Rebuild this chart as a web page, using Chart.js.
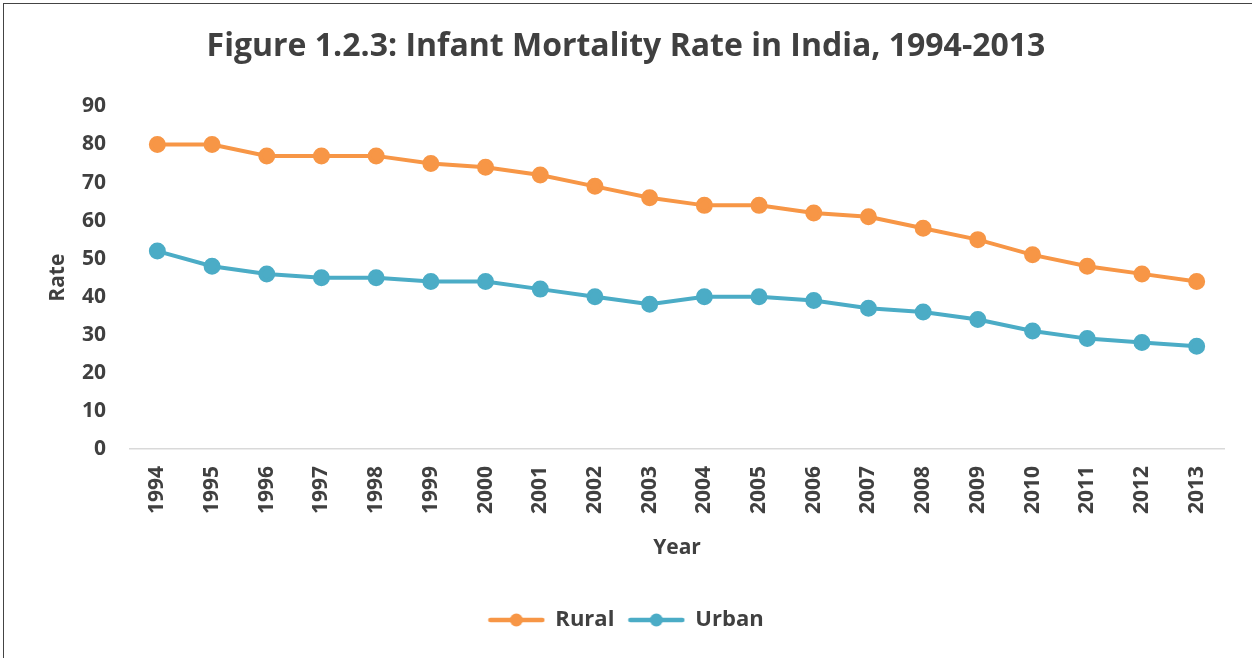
<!DOCTYPE html>
<html lang="en">
  <head>
    <meta charset="UTF-8" />
    <title>Infant Mortality Rate in India, 1994-2013</title>
    <script src="https://cdn.jsdelivr.net/npm/chart.js"></script>
    <style>
      html, body { margin: 0; padding: 0; background: #fff; overflow: hidden; }
      #frame { position: absolute; left: 3px; top: 3px; width: 1300px; height: 700px; border-left: 1px solid #444; border-top: 1px solid #444; }
      #wrap { position: absolute; left: 0; top: 0; width: 1252px; height: 658px; }
    </style>
  </head>
  <body>
    <div id="frame"></div>
    <div id="wrap"><canvas id="chart" width="1252" height="658"></canvas></div>

    <script>
      // Data
      const years = ["1994", "1995", "1996", "1997", "1998", "1999", "2000", "2001", "2002", "2003",
                     "2004", "2005", "2006", "2007", "2008", "2009", "2010", "2011", "2012", "2013"];
      const rural = [80, 80, 77, 77, 77, 75, 74, 72, 69, 66, 64, 64, 62, 61, 58, 55, 51, 48, 46, 44];
      const urban = [52, 48, 46, 45, 45, 44, 44, 42, 40, 38, 40, 40, 39, 37, 36, 34, 31, 29, 28, 27];
      const yTicks = [0, 10, 20, 30, 40, 50, 60, 70, 80, 90];

      const ORANGE = "#F79646";
      const BLUE = "#4BACC6";
      const TEXT = "#404040";
      const FONT = "'Open Sans', 'Noto Sans', sans-serif";

      // legend marker: short line with a dot in the middle
      function legendMarker(color) {
        const c = document.createElement("canvas");
        c.width = 58; c.height = 16;
        const g = c.getContext("2d");
        g.strokeStyle = color; g.lineWidth = 4.5; g.lineCap = "round";
        g.beginPath(); g.moveTo(3, 8); g.lineTo(55, 8); g.stroke();
        g.fillStyle = color;
        g.beginPath(); g.arc(29, 8, 6.5, 0, Math.PI * 2); g.fill();
        return c;
      }

      new Chart(document.getElementById("chart"), {
        type: "line",
        data: {
          labels: years,
          datasets: [
            { label: "Rural", data: rural, borderColor: ORANGE, backgroundColor: ORANGE,
              borderWidth: 4, pointRadius: 6.5, pointHoverRadius: 6.5, tension: 0 },
            { label: "Urban", data: urban, borderColor: BLUE, backgroundColor: BLUE,
              borderWidth: 4, pointRadius: 6.5, pointHoverRadius: 6.5, tension: 0 }
          ]
        },
        options: {
          responsive: false,
          animation: false,
          layout: { padding: { left: 0, right: 0, top: 0, bottom: 17 } },
          plugins: {
            title: {
              display: true,
              text: "Figure 1.2.3: Infant Mortality Rate in India, 1994-2013",
              color: TEXT,
              font: { family: FONT, size: 32, weight: "bold" },
              padding: { top: 28, bottom: 40 }
            },
            legend: {
              position: "bottom",
              labels: {
                color: TEXT,
                font: { family: FONT, size: 22, weight: "bold" },
                usePointStyle: true,
                pointStyleWidth: 56,
                boxHeight: 16,
                padding: 14,
                generateLabels: (chart) => chart.data.datasets.map((ds, i) => ({
                  text: ds.label,
                  fontColor: TEXT,
                  pointStyle: legendMarker(ds.borderColor),
                  datasetIndex: i,
                  hidden: false,
                  lineWidth: 0
                }))
              }
            },
            tooltip: { enabled: false }
          },
          scales: {
            x: {
              offset: true,
              grid: { display: false, drawTicks: false },
              border: { display: true, color: "#D9D9D9", width: 1.5 },
              ticks: {
                color: TEXT,
                font: { family: FONT, size: 21, weight: "bold" },
                minRotation: 90, maxRotation: 90,
                padding: 17
              },
              title: {
                display: true, text: "Year", color: TEXT,
                font: { family: FONT, size: 21, weight: "bold" },
                padding: { top: 0, bottom: 34 }
              },
              afterFit: (s) => { s.height = 146; }
            },
            y: {
              min: 0, max: 90,
              afterBuildTicks: (s) => { s.ticks = yTicks.map(v => ({ value: v })); },
              grid: { display: false, drawTicks: false },
              border: { display: false },
              ticks: {
                color: TEXT,
                font: { family: FONT, size: 21, weight: "bold" },
                padding: 24
              },
              title: {
                display: true, text: "Rate", color: TEXT,
                font: { family: FONT, size: 21, weight: "bold" },
                padding: { top: 45, bottom: 0 }
              },
              afterFit: (s) => { s.width = 130; }
            },
            // empty right strip so the plot ends where the figure's does
            yRight: {
              position: "right",
              grid: { display: false, drawTicks: false },
              border: { display: false },
              ticks: { display: false },
              afterFit: (s) => { s.width = 28; }
            }
          }
        }
      });
    </script>
  </body>
</html>
